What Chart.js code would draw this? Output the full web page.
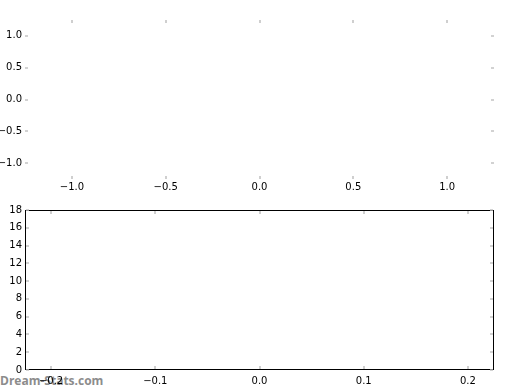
<!DOCTYPE html>
<html><head><meta charset="utf-8">
<script src="https://cdn.jsdelivr.net/npm/chart.js@4"></script>
<style>
html,body{margin:0;padding:0;background:#fff;}
#wrap{position:relative;width:520px;height:390px;overflow:hidden;background:#fff;}
canvas{position:absolute;left:0;}
#c1{top:0;}
#c2{top:195px;}
#wm{position:absolute;left:0;top:372px;font:bold 12px "Open Sans";color:#8c8c8c;white-space:nowrap;line-height:normal;}
</style></head><body>
<div id="wrap">
<div id="wm">Dream-Stats.com</div>
<canvas id="c1" width="520" height="195"></canvas>
<canvas id="c2" width="520" height="195"></canvas>
</div>
<script>
// ---- data ----
const topXTicks = [-1.0, -0.5, 0.0, 0.5, 1.0];
const topYTicks = [-1.0, -0.5, 0.0, 0.5, 1.0];
const topXRange = [-1.25, 1.25];
const topYRange = [-1.25, 1.25];
const topSeries = [];

const botXTicks = [-0.2, -0.1, 0.0, 0.1, 0.2];
const botYTicks = [0, 2, 4, 6, 8, 10, 12, 14, 16, 18];
const botXRange = [-0.225, 0.225];
const botYRange = [0, 18];
const botSeries = [];

// ---- helpers ----
const MINUS = '\u2212';
const fmt1 = v => (v < 0 ? MINUS : '') + Math.abs(v).toFixed(1);
const fmt0 = v => (v < 0 ? MINUS : '') + Math.abs(v).toFixed(0);
const FONT = {family: '"DejaVu Sans"', size: 10};

const inTicks = {
  id: 'inTicks',
  afterDraw(chart, args, o) {
    const ctx = chart.ctx, a = chart.chartArea;
    const sx = chart.scales.x, sy = chart.scales.y;
    ctx.save();
    if (o.frame) {
      ctx.strokeStyle = '#000';
      ctx.lineWidth = 1;
      ctx.strokeRect(Math.round(a.left) + 0.5, Math.round(a.top) + 0.5,
        Math.round(a.right - a.left) - 1, Math.round(a.bottom - a.top) - 1);
    }
    ctx.strokeStyle = o.color;
    ctx.lineWidth = 1.6;
    ctx.beginPath();
    const L = o.len;
    sx.ticks.forEach(t => {
      const p = Math.round(sx.getPixelForValue(t.value));
      ctx.moveTo(p, a.top + o.inset); ctx.lineTo(p, a.top + o.inset + L);
      ctx.moveTo(p, a.bottom - o.inset); ctx.lineTo(p, a.bottom - o.inset - L);
    });
    sy.ticks.forEach(t => {
      const p = Math.round(sy.getPixelForValue(t.value));
      ctx.moveTo(a.left + o.inset, p); ctx.lineTo(a.left + o.inset + L, p);
      ctx.moveTo(a.right - o.inset, p); ctx.lineTo(a.right - o.inset - L, p);
    });
    ctx.stroke();
    ctx.restore();
  }
};

function makeChart(id, xr, yr, xt, yt, xf, yf, series, axisH, padTop, xPad, frame) {
  return new Chart(document.getElementById(id), {
    type: 'scatter',
    data: {datasets: [{data: series, pointRadius: 0}]},
    options: {
      responsive: false, animation: false,
      events: [],
      layout: {padding: {top: padTop, right: 26, left: 0, bottom: 0}},
      plugins: {legend: {display: false}, tooltip: {enabled: false},
        inTicks: {color: '#c4c4c4', len: 3, inset: frame ? 1 : 0, frame: frame}},
      scales: {
        x: {
          type: 'linear', position: 'bottom', min: xr[0], max: xr[1],
          grid: {display: false, drawTicks: false},
          border: {display: false},
          afterBuildTicks: s => { s.ticks = xt.map(v => ({value: v})); },
          afterFit: s => { s.height = axisH; },
          ticks: {color: '#000', font: FONT, padding: xPad, maxRotation: 0, autoSkip: false,
            callback: v => xf(v)}
        },
        y: {
          type: 'linear', position: 'left', min: yr[0], max: yr[1],
          grid: {display: false, drawTicks: false},
          border: {display: false},
          afterBuildTicks: s => { s.ticks = yt.map(v => ({value: v})); },
          afterFit: s => { s.width = 25; },
          ticks: {color: '#000', font: FONT, padding: 3, autoSkip: false,
            callback: v => yf(v)}
        }
      }
    },
    plugins: [inTicks]
  });
}

makeChart('c1', topXRange, topYRange, topXTicks, topYTicks, fmt1, fmt1, topSeries, 16, 20, 2, false);
makeChart('c2', botXRange, botYRange, botXTicks, botYTicks, fmt1, fmt0, botSeries, 20, 15, 5, true);
</script>
</body></html>
